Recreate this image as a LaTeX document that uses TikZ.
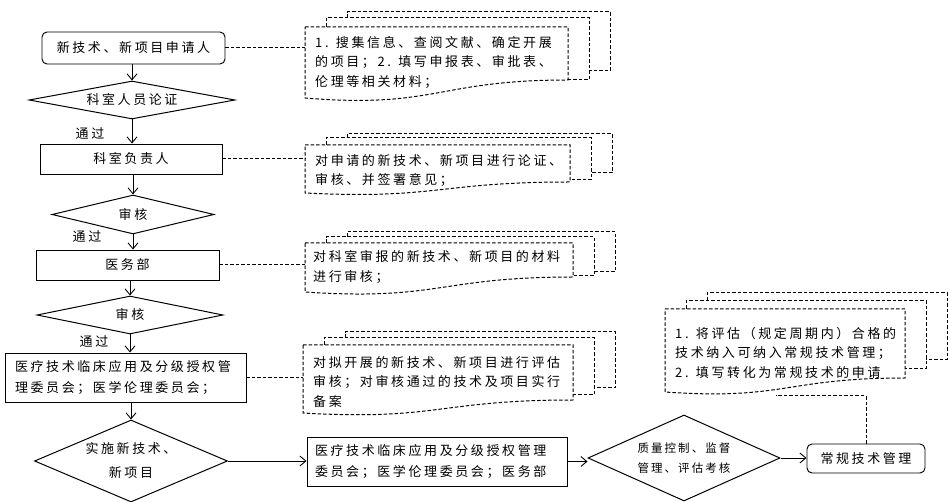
\documentclass[tikz,border=0pt]{standalone}
\usepackage{fontspec}
\setmainfont{Noto Sans CJK SC}[LetterSpace=20]
\newfontfamily\smallcjk{Noto Sans CJK SC}[LetterSpace=18]
\usetikzlibrary{shapes.geometric,arrows.meta}
% multi-document shape: L T R B(right bottom) Bl(left bottom) dt2 dt3 db2 db3
\newcommand\mdoc[9]{%
  \draw[dline] (#1,#2) -- (#3,#2) -- (#3,#4)
     .. controls ({(#1+#3)/2},#4) and ({(#1+#3)/2},{#4+1.6*(#5-#4)}) .. (#1,#5) -- cycle;
  \draw[dline] (#1+21,#2) -- (#1+21,#2-#6) -- (#3+21,#2-#6) -- (#3+21,#4-#8) -- (#3,#4-#8);
  \draw[dline] (#1+42,#2-#6) -- (#1+42,#2-#7) -- (#3+42,#2-#7) -- (#3+42,#4-#9) -- (#3+21,#4-#9);
}
\begin{document}
\begin{tikzpicture}[x=1pt,y=-1pt,
  box/.style={draw, line width=0.95pt, inner sep=0pt, font=\fontsize{13}{21}\selectfont},
  rbox/.style={box, rounded corners=5pt},
  dia/.style={draw, diamond, inner sep=0pt, line width=1pt, align=center, font=\fontsize{13}{21}\selectfont},
  arr/.style={-{Straight Barb[length=6pt,width=10pt]}, line width=0.9pt},
  dline/.style={line width=1pt, dash pattern=on 3.5pt off 2pt},
  doctext/.style={inner sep=0pt, align=left, font=\fontsize{13}{19.5}\selectfont},
  lbl/.style={inner sep=0pt, font=\fontsize{13}{15}\selectfont}
]
\useasboundingbox (0,0) rectangle (948,502);

% main flow
\node[rbox, minimum width=183pt, minimum height=32pt] (A) at (133.5,48) {新技术、新项目申请人};
\node[dia, minimum width=206pt, minimum height=38pt, aspect=5.4] (D1) at (132,100) {科室人员论证};
\node[box, minimum width=182pt, minimum height=30pt] (B2) at (131,159) {科室负责人};
\node[dia, minimum width=162pt, minimum height=39pt, aspect=4.15] (D2) at (133,214.5) {审核};
\node[box, minimum width=183pt, minimum height=30pt] (B3) at (127.5,265) {医务部};
\node[dia, minimum width=186pt, minimum height=38pt, aspect=4.9] (D3) at (130,315) {审核};
\node[box, minimum width=241pt, minimum height=49pt, text width=221pt, align=left] (B4) at (125.5,377.5) {医疗技术临床应用及分级授权管\\理委员会；医学伦理委员会；};
\node[dia, minimum width=193pt, minimum height=82pt, aspect=2.35, font=\fontsize{13}{24}\selectfont] (D4) at (131,461) {实施新技术、\\新项目};
\node[box, minimum width=260pt, minimum height=49pt, text width=244pt, align=left] (B5) at (437,461.5) {医疗技术临床应用及分级授权管理\\委员会；医学伦理委员会；医务部};
\node[dia, minimum width=192pt, minimum height=86pt, aspect=2.23, font=\smallcjk\fontsize{11.5}{20}\selectfont] (D5) at (684,458) {质量控制、监督\\管理、评估考核};
\node[rbox, minimum width=118pt, minimum height=29pt] (C) at (866,458.5) {常规技术管理};

% labels
\node[lbl] (p1) at (90,134) {通过};
\node[lbl] (p2) at (87,237) {通过};
\node[lbl] (p3) at (94,342) {通过};

% arrows
\draw[arr] (A.south -| D1.north) -- (D1.north);
\draw[arr] (D1.south) -- (D1.south |- B2.north);
\draw[arr] (B2.south -| D2.north) -- (D2.north);
\draw[arr] (D2.south) -- (D2.south |- B3.north);
\draw[arr] (B3.south -| D3.north) -- (D3.north);
\draw[arr] (D3.south) -- (D3.south |- B4.north);
\draw[arr] (B4.south -| D4.north) -- (D4.north);
\draw[arr] (D4.east) -- (D4.east -| B5.west);
\draw[arr] (B5.east) -- (B5.east -| D5.west);
\draw[arr] (D5.east) -- (D5.east -| C.west);

% documents
\mdoc{305}{27}{568}{80}{98}{9}{15}{0}{9}
\mdoc{305}{145}{570}{182}{193}{7}{11}{2}{9}
\mdoc{305}{243}{573}{277}{292}{6}{11}{1}{5}
\mdoc{303}{345}{573}{400}{413}{7}{13}{5}{12}
\mdoc{665}{309}{905}{378}{392}{8}{16}{9}{18}

\node[doctext, anchor=west] (t1) at (315,62.5) {1. 搜集信息、查阅文献、确定开展\\的项目；2. 填写申报表、审批表、\\伦理等相关材料；};
\node[doctext, anchor=west] (t2) at (315,170.5) {对申请的新技术、新项目进行论证、\\审核、并签署意见；};
\node[doctext, anchor=west] (t3) at (313,267) {对科室审报的新技术、新项目的材料\\进行审核；};
\node[doctext, anchor=west] (t4) at (313,382) {对拟开展的新技术、新项目进行评估\\审核；对审核通过的技术及项目实行\\备案};
\node[doctext, anchor=west] (t5) at (675,352.5) {1. 将评估（规定周期内）合格的\\技术纳入可纳入常规技术管理；\\2. 填写转化为常规技术的申请};

% document connection points
\coordinate (k1) at (305,48);
\coordinate (k2) at (305,159);
\coordinate (k3) at (305,265);
\coordinate (k4) at (303,377);
\coordinate (k5) at (776,396);
\draw[dline] (A.east) -- (A.east -| k1);
\draw[dline] (B2.east) -- (B2.east -| k2);
\draw[dline] (B3.east) -- (B3.east -| k3);
\draw[dline] (B4.east) -- (B4.east -| k4);
\draw[dline] (C.north) |- (k5);
\end{tikzpicture}
\end{document}
